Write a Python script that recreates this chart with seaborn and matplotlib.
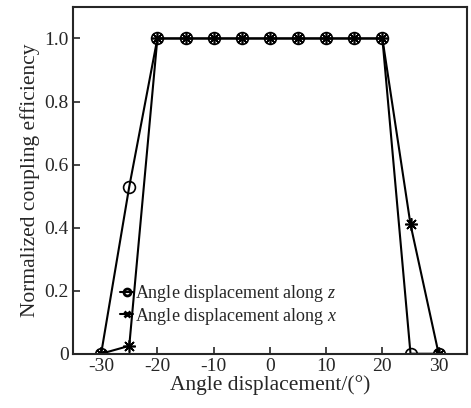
import matplotlib
matplotlib.use("Agg")
import matplotlib.pyplot as plt
import seaborn as sns
import pandas as pd
from matplotlib.lines import Line2D

angles = [-30, -25, -20, -15, -10, -5, 0, 5, 10, 15, 20, 25, 30]
eff_z = [0, 0.53, 1, 1, 1, 1, 1, 1, 1, 1, 1, 0, 0]
eff_x = [0, 0.025, 1, 1, 1, 1, 1, 1, 1, 1, 1, 0.41, 0]
labels = ["Angle displacement along $z$", "Angle displacement along $x$"]
xticks = [-30, -20, -10, 0, 10, 20, 30]
yticks = [0, 0.2, 0.4, 0.6, 0.8, 1.0]
yticklabels = ["0", "0.2", "0.4", "0.6", "0.8", "1.0"]

sns.set_style("ticks")
plt.rcParams['font.family'] = ['Liberation Serif', 'DejaVu Serif']
plt.rcParams['mathtext.fontset'] = 'custom'
plt.rcParams['mathtext.it'] = 'Liberation Serif:italic'
plt.rcParams['mathtext.rm'] = 'Liberation Serif'

df = pd.DataFrame({
    "angle": angles * 2,
    "eff": eff_z + eff_x,
    "series": [labels[0]] * len(angles) + [labels[1]] * len(angles),
})

fig, ax = plt.subplots(figsize=(4.71, 4.08), dpi=100)
fig.subplots_adjust(left=0.155, right=0.991, top=0.983, bottom=0.133)

sns.lineplot(data=df[df.series == labels[0]], x="angle", y="eff", ax=ax,
             color="black", lw=1.5, marker="o", markersize=8.5,
             markerfacecolor="none", markeredgecolor="black", markeredgewidth=1.2,
             legend=False)
sns.lineplot(data=df[df.series == labels[1]], x="angle", y="eff", ax=ax,
             color="black", lw=1.5, marker=(8, 2, 0), markersize=9,
             markeredgecolor="black", markeredgewidth=1.2, legend=False)

ax.set_xlim(-35, 35)
ax.set_ylim(0, 1.1)
ax.set_xticks(xticks)
ax.set_xticklabels([str(t) for t in xticks])
ax.set_yticks(yticks)
ax.set_yticklabels(yticklabels)
ax.tick_params(direction="in", length=5, width=1.2, labelsize=14, pad=3)
for s in ax.spines.values():
    s.set_linewidth(1.5)
ax.set_xlabel("Angle displacement/(°)", fontsize=15.5, labelpad=0)
ax.set_ylabel("Normalized coupling efficiency", fontsize=15.5, labelpad=3)

handles = [
    Line2D([], [], color="black", lw=1.5, marker="o", markersize=5,
           markerfacecolor="none", markeredgewidth=2),
    Line2D([], [], color="black", lw=1.5, marker="x", markersize=5,
           markeredgewidth=2),
]
ax.legend(handles, labels, loc="lower left", bbox_to_anchor=(0.12, 0.078),
          frameon=False, fontsize=13, handlelength=0.7, handletextpad=0.1,
          labelspacing=0.1, borderaxespad=0, borderpad=0)

fig.savefig("out.png", dpi=100)
